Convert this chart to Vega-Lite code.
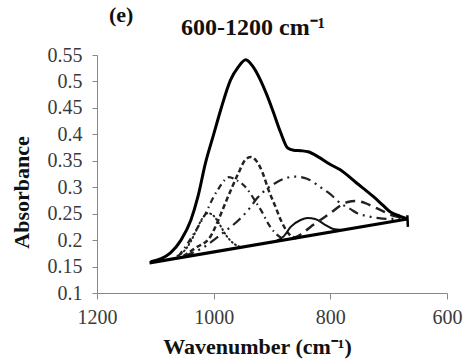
{
  "$schema": "https://vega.github.io/schema/vega-lite/v6.json",
  "width": 350,
  "height": 238,
  "autosize": "none",
  "padding": {"left": 97, "top": 55, "right": 18, "bottom": 67},
  "background": "white",
  "title": {
    "text": "(e)",
    "subtitle": "\u200b\u00a0\u00a0\u00a0\u00a0\u00a0\u00a0\u00a0\u00a0\u00a0\u00a0\u00a0\u00a0600-1200 cm⁻¹",
    "font": "Liberation Serif",
    "fontWeight": "bold",
    "fontSize": 22,
    "color": "#111111",
    "subtitleFont": "Liberation Serif",
    "subtitleFontWeight": "bold",
    "subtitleFontSize": 24,
    "subtitleColor": "#111111",
    "subtitlePadding": -11,
    "anchor": "start",
    "frame": "group",
    "dx": 12,
    "offset": 4
  },
  "config": {
    "view": {"stroke": null},
    "axis": {
      "labelFont": "Liberation Serif",
      "labelFontSize": 20,
      "labelColor": "#3a3a3a",
      "titleFont": "Liberation Serif",
      "titleFontWeight": "bold",
      "titleFontSize": 22,
      "titleColor": "#111111",
      "domainColor": "#888888",
      "tickColor": "#888888",
      "grid": false
    }
  },
  "data": {
    "values": [
      {"s": "main", "w": 1108, "a": 0.159}, {"s": "main", "w": 1090, "a": 0.165}, {"s": "main", "w": 1074, "a": 0.176},
      {"s": "main", "w": 1056, "a": 0.200}, {"s": "main", "w": 1039, "a": 0.238}, {"s": "main", "w": 1027, "a": 0.282},
      {"s": "main", "w": 1014, "a": 0.346}, {"s": "main", "w": 1000, "a": 0.400}, {"s": "main", "w": 988, "a": 0.446},
      {"s": "main", "w": 971, "a": 0.503}, {"s": "main", "w": 958, "a": 0.527}, {"s": "main", "w": 945, "a": 0.541},
      {"s": "main", "w": 932, "a": 0.527}, {"s": "main", "w": 920, "a": 0.503}, {"s": "main", "w": 909, "a": 0.475},
      {"s": "main", "w": 899, "a": 0.446}, {"s": "main", "w": 885, "a": 0.403}, {"s": "main", "w": 873, "a": 0.374},
      {"s": "main", "w": 863, "a": 0.370}, {"s": "main", "w": 850, "a": 0.369}, {"s": "main", "w": 838, "a": 0.367},
      {"s": "main", "w": 820, "a": 0.357}, {"s": "main", "w": 800, "a": 0.343}, {"s": "main", "w": 783, "a": 0.333},
      {"s": "main", "w": 755, "a": 0.308}, {"s": "main", "w": 726, "a": 0.282}, {"s": "main", "w": 710, "a": 0.266},
      {"s": "main", "w": 697, "a": 0.253}, {"s": "main", "w": 680, "a": 0.245}, {"s": "main", "w": 668, "a": 0.240},

      {"s": "base", "w": 1110, "a": 0.157}, {"s": "base", "w": 668, "a": 0.240},
      {"s": "hook", "w": 667, "a": 0.225}, {"s": "hook", "w": 668, "a": 0.247},

      {"s": "p1", "w": 1062, "a": 0.170}, {"s": "p1", "w": 1050, "a": 0.180}, {"s": "p1", "w": 1040, "a": 0.196},
      {"s": "p1", "w": 1030, "a": 0.218}, {"s": "p1", "w": 1020, "a": 0.240}, {"s": "p1", "w": 1010, "a": 0.251},
      {"s": "p1", "w": 1000, "a": 0.246}, {"s": "p1", "w": 990, "a": 0.230}, {"s": "p1", "w": 978, "a": 0.208},
      {"s": "p1", "w": 965, "a": 0.193}, {"s": "p1", "w": 954, "a": 0.187},

      {"s": "p2", "w": 1060, "a": 0.170}, {"s": "p2", "w": 1045, "a": 0.193}, {"s": "p2", "w": 1034, "a": 0.212},
      {"s": "p2", "w": 1014, "a": 0.250}, {"s": "p2", "w": 1000, "a": 0.282}, {"s": "p2", "w": 990, "a": 0.300},
      {"s": "p2", "w": 980, "a": 0.315}, {"s": "p2", "w": 974, "a": 0.319}, {"s": "p2", "w": 962, "a": 0.314},
      {"s": "p2", "w": 945, "a": 0.300}, {"s": "p2", "w": 930, "a": 0.276}, {"s": "p2", "w": 916, "a": 0.251},
      {"s": "p2", "w": 907, "a": 0.232}, {"s": "p2", "w": 895, "a": 0.214}, {"s": "p2", "w": 882, "a": 0.203},
      {"s": "p2", "w": 875, "a": 0.200},

      {"s": "p3", "w": 1052, "a": 0.170}, {"s": "p3", "w": 1030, "a": 0.186}, {"s": "p3", "w": 1006, "a": 0.206},
      {"s": "p3", "w": 992, "a": 0.238}, {"s": "p3", "w": 980, "a": 0.270}, {"s": "p3", "w": 968, "a": 0.301},
      {"s": "p3", "w": 957, "a": 0.328}, {"s": "p3", "w": 947, "a": 0.350}, {"s": "p3", "w": 937, "a": 0.357},
      {"s": "p3", "w": 927, "a": 0.350}, {"s": "p3", "w": 916, "a": 0.327}, {"s": "p3", "w": 906, "a": 0.295},
      {"s": "p3", "w": 894, "a": 0.263}, {"s": "p3", "w": 885, "a": 0.238}, {"s": "p3", "w": 872, "a": 0.213},
      {"s": "p3", "w": 858, "a": 0.203},

      {"s": "p4", "w": 1050, "a": 0.170}, {"s": "p4", "w": 1034, "a": 0.177}, {"s": "p4", "w": 1015, "a": 0.188},
      {"s": "p4", "w": 1000, "a": 0.200}, {"s": "p4", "w": 980, "a": 0.217}, {"s": "p4", "w": 957, "a": 0.238},
      {"s": "p4", "w": 940, "a": 0.258}, {"s": "p4", "w": 925, "a": 0.280}, {"s": "p4", "w": 910, "a": 0.296},
      {"s": "p4", "w": 894, "a": 0.308}, {"s": "p4", "w": 877, "a": 0.317}, {"s": "p4", "w": 860, "a": 0.320},
      {"s": "p4", "w": 840, "a": 0.316}, {"s": "p4", "w": 817, "a": 0.300}, {"s": "p4", "w": 800, "a": 0.287},
      {"s": "p4", "w": 783, "a": 0.270}, {"s": "p4", "w": 766, "a": 0.259}, {"s": "p4", "w": 754, "a": 0.251},
      {"s": "p4", "w": 735, "a": 0.245}, {"s": "p4", "w": 720, "a": 0.242}, {"s": "p4", "w": 700, "a": 0.240},
      {"s": "p4", "w": 685, "a": 0.240}, {"s": "p4", "w": 668, "a": 0.240},

      {"s": "p5", "w": 892, "a": 0.199}, {"s": "p5", "w": 880, "a": 0.207}, {"s": "p5", "w": 868, "a": 0.225},
      {"s": "p5", "w": 851, "a": 0.238}, {"s": "p5", "w": 839, "a": 0.242}, {"s": "p5", "w": 826, "a": 0.240},
      {"s": "p5", "w": 809, "a": 0.229}, {"s": "p5", "w": 795, "a": 0.221}, {"s": "p5", "w": 780, "a": 0.219},

      {"s": "p6", "w": 865, "a": 0.203}, {"s": "p6", "w": 850, "a": 0.211}, {"s": "p6", "w": 834, "a": 0.225},
      {"s": "p6", "w": 817, "a": 0.238}, {"s": "p6", "w": 800, "a": 0.251}, {"s": "p6", "w": 783, "a": 0.265},
      {"s": "p6", "w": 770, "a": 0.272}, {"s": "p6", "w": 757, "a": 0.274}, {"s": "p6", "w": 740, "a": 0.270},
      {"s": "p6", "w": 726, "a": 0.263}, {"s": "p6", "w": 710, "a": 0.255}, {"s": "p6", "w": 697, "a": 0.248},
      {"s": "p6", "w": 680, "a": 0.243}, {"s": "p6", "w": 668, "a": 0.240}
    ]
  },
  "encoding": {
    "x": {
      "field": "w", "type": "quantitative",
      "scale": {"domain": [600, 1200], "reverse": true, "nice": false, "zero": false},
      "axis": {"values": [600, 800, 1000, 1200], "format": "d", "title": "Wavenumber (cm⁻¹)", "tickSize": 6, "labelPadding": 8, "titlePadding": 9, "titleX": 160, "labelFlush": false}
    },
    "y": {
      "field": "a", "type": "quantitative",
      "scale": {"domain": [0.1, 0.55], "nice": false, "zero": false},
      "axis": {"values": [0.1, 0.15, 0.2, 0.25, 0.3, 0.35, 0.4, 0.45, 0.5, 0.55], "format": ".2~f", "title": "Absorbance", "tickSize": 5, "labelPadding": 10, "titlePadding": 14, "titleY": 137}
    }
  },
  "layer": [
    {"transform": [{"filter": "datum.s === 'p1'"}], "mark": {"type": "line", "interpolate": "monotone", "color": "#222222", "strokeWidth": 2, "strokeDash": [1, 3], "strokeCap": "round"}},
    {"transform": [{"filter": "datum.s === 'p2'"}], "mark": {"type": "line", "interpolate": "monotone", "color": "#222222", "strokeWidth": 2.2, "strokeDash": [6, 4, 1.5, 4]}},
    {"transform": [{"filter": "datum.s === 'p3'"}], "mark": {"type": "line", "interpolate": "monotone", "color": "#222222", "strokeWidth": 2.5, "strokeDash": [5, 3]}},
    {"transform": [{"filter": "datum.s === 'p4'"}], "mark": {"type": "line", "interpolate": "monotone", "color": "#222222", "strokeWidth": 2.2, "strokeDash": [10, 5, 2, 5, 2, 5]}},
    {"transform": [{"filter": "datum.s === 'p5'"}], "mark": {"type": "line", "interpolate": "monotone", "color": "#111111", "strokeWidth": 2}},
    {"transform": [{"filter": "datum.s === 'p6'"}], "mark": {"type": "line", "interpolate": "monotone", "color": "#222222", "strokeWidth": 2.5, "strokeDash": [10, 6]}},
    {"transform": [{"filter": "datum.s === 'base'"}], "mark": {"type": "line", "color": "#000000", "strokeWidth": 3.2}},
    {"transform": [{"filter": "datum.s === 'hook'"}], "mark": {"type": "line", "color": "#000000", "strokeWidth": 2.5}},
    {"transform": [{"filter": "datum.s === 'main'"}], "mark": {"type": "line", "interpolate": "monotone", "color": "#000000", "strokeWidth": 3}}
  ]
}
